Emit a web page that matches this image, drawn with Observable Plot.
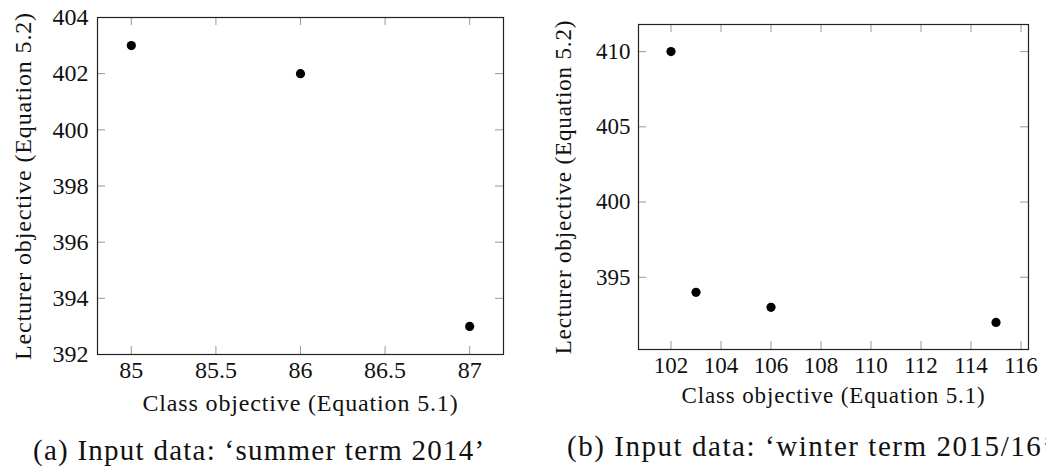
<!DOCTYPE html>
<html><head><meta charset="utf-8">
<script src="https://cdn.jsdelivr.net/npm/d3@7"></script>
<script src="https://cdn.jsdelivr.net/npm/@observablehq/plot@0.6"></script>
<style>
html,body{margin:0;padding:0;background:#fff;overflow:hidden;width:1046px;height:475px}
#wrap{position:relative;width:1046px;height:475px;overflow:hidden}
.panel{position:absolute;top:0}
.panel svg{background:transparent !important}
.cap{position:absolute;font-family:"Liberation Serif",serif;font-size:29px;line-height:29px;white-space:nowrap;color:#111;letter-spacing:1.25px}
</style></head><body><div id="wrap"></div>
<script>
// Panel (a): summer term 2014
const summerClass = [85, 86, 87];
const summerLecturer = [403, 402, 393];
const summerXTicks = [85, 85.5, 86, 86.5, 87];
const summerYTicks = [392, 394, 396, 398, 400, 402, 404];
// Panel (b): winter term 2015/16
const winterClass = [102, 103, 106, 115];
const winterLecturer = [410, 394, 393, 392];
const winterXTicks = [102, 104, 106, 108, 110, 112, 114, 116];
const winterYTicks = [395, 400, 405, 410];
// Texts
const xLabel = "Class objective (Equation 5.1)";
const yLabel = "Lecturer objective (Equation 5.2)";
const captionA = "(a) Input data: \u2018summer term 2014\u2019";
const captionB = "(b) Input data: \u2018winter term 2015/16\u2019";

function enlarge([a, b]) { const p = (b - a) * 0.1; return [a - p, b + p]; }

function panel({xs, ys, xTicks, yTicks, width, height, mL, mR, mT, mB, fontSize, yLabelDx, xLabelDy, xPad, yPad, spacing}) {
  const data = xs.map((x, i) => ({x, y: ys[i]}));
  const innerH = height - mT - mB, innerW = width - mL - mR;
  const tl = 8, tickColor = "#9a9a9a";
  const svg = Plot.plot({
    width, height, marginLeft: mL, marginRight: mR, marginTop: mT, marginBottom: mB,
    style: {fontFamily: "'Liberation Serif', serif", fontSize: fontSize + "px", color: "#111", background: "transparent", overflow: "visible"},
    x: {domain: enlarge(d3.extent(xs))},
    y: {domain: enlarge(d3.extent(ys))},
    marks: [
      Plot.tickX(xTicks, {x: d => d, stroke: tickColor, insetTop: innerH - tl}),
      Plot.tickX(xTicks, {x: d => d, stroke: tickColor, insetBottom: innerH - tl}),
      Plot.tickY(yTicks, {y: d => d, stroke: tickColor, insetRight: innerW - tl}),
      Plot.tickY(yTicks, {y: d => d, stroke: tickColor, insetLeft: innerW - tl}),
      Plot.frame({stroke: "#222", strokeWidth: 1.2}),
      Plot.axisX(xTicks, {tickSize: 0, tickPadding: xPad, label: null, fill: "#111", tickFormat: d => String(d)}),
      Plot.axisY(yTicks, {tickSize: 0, tickPadding: yPad, label: null, fill: "#111", tickFormat: d => String(d)}),
      Plot.text([xLabel], {text: d => d, frameAnchor: "bottom", textAnchor: "middle", dy: xLabelDy, fill: "#111"}),
      Plot.text([yLabel], {text: d => d, frameAnchor: "left", textAnchor: "middle", rotate: -90, dx: yLabelDx, fill: "#111"}),
      Plot.dot(data, {x: "x", y: "y", r: 4.6, fill: "#000", stroke: "none"})
    ]
  });
  d3.select(svg).selectAll("text")
    .filter(function() { return this.textContent === xLabel || this.textContent === yLabel; })
    .style("letter-spacing", spacing + "px");
  return svg;
}

const wrap = document.getElementById("wrap");

const a = panel({xs: summerClass, ys: summerLecturer, xTicks: summerXTicks, yTicks: summerYTicks,
  width: 520, height: 430, mL: 97, mR: 17, mT: 17, mB: 76, fontSize: 24, yLabelDx: -74, xLabelDy: 56, xPad: 6, yPad: 9, spacing: 0.85});
const da = document.createElement("div"); da.className = "panel"; da.style.left = "0px"; da.appendChild(a); wrap.appendChild(da);

const b = panel({xs: winterClass, ys: winterLecturer, xTicks: winterXTicks, yTicks: winterYTicks,
  width: 526, height: 430, mL: 118, mR: 18, mT: 24, mB: 81, fontSize: 23, yLabelDx: -75, xLabelDy: 53, xPad: 7, yPad: 8, spacing: 0.85});
const db = document.createElement("div"); db.className = "panel"; db.style.left = "520px"; db.appendChild(b); wrap.appendChild(db);

const ca = document.createElement("div"); ca.className = "cap"; ca.textContent = captionA;
ca.style.left = "33px"; ca.style.top = "436px"; wrap.appendChild(ca);
const cb = document.createElement("div"); cb.className = "cap"; cb.textContent = captionB;
cb.style.left = "567px"; cb.style.top = "432px"; cb.style.letterSpacing = "1.55px"; wrap.appendChild(cb);
</script></body></html>
